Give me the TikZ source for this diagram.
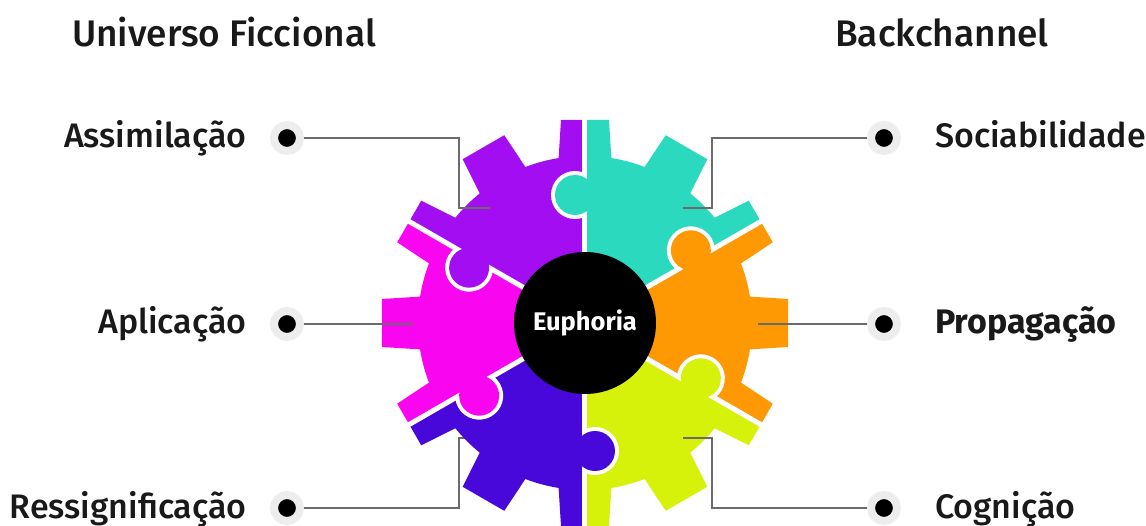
\documentclass[tikz,border=0pt]{standalone}
\usepackage{fontspec}
\setmainfont{Fira Sans}[UprightFont={* Medium},BoldFont={* Bold}]
\usetikzlibrary{calc}
\definecolor{PurpleClr}{rgb}{0.64,0.05,0.95}
\definecolor{TealClr}{rgb}{0.17,0.85,0.75}
\definecolor{OrangeClr}{rgb}{1,0.6,0.01}
\definecolor{LimeClr}{rgb}{0.84,0.95,0.04}
\definecolor{IndigoClr}{rgb}{0.28,0.03,0.85}
\definecolor{MagentaClr}{rgb}{0.98,0.02,0.94}
\definecolor{LineClr}{rgb}{0.42,0.42,0.42}
\definecolor{HaloClr}{rgb}{0.93,0.93,0.93}

\tikzset{
  dot/.style={circle,fill=black,draw=HaloClr,line width=8pt,minimum size=26pt,inner sep=0pt},
  leader/.style={draw=LineClr,line width=2pt},
  lbl/.style={font=\fontsize{34}{38}\selectfont,text=black!90,inner sep=0pt},
  ttl/.style={font=\fontsize{37}{40}\selectfont,text=black!90,inner sep=0pt}
}

\begin{document}
\begin{tikzpicture}[x=1pt,y=1pt]
\useasboundingbox (-585,-202) rectangle (561,323);

\node[ttl,anchor=base] (uf) at (-361,276) {Universo Ficcional};
\node[ttl,anchor=base] (bc) at (357,276) {Backchannel};

\node[dot] (assim) at (-298,185) {};
\node[dot] (aplic) at (-298,-1) {};
\node[dot] (ressig) at (-298,-185) {};
\node[dot] (socia) at (299,185) {};
\node[dot] (propag) at (299,-1) {};
\node[dot] (cogn) at (299,-185) {};

\node[lbl,anchor=base east] at ($(assim)+(-40,-10)$) {Assimilação};
\node[lbl,anchor=base east] at ($(aplic)+(-40,-9)$) {Aplicação};
\node[lbl,anchor=base east] at ($(ressig)+(-40,-10)$) {Ressignificação};
\node[lbl,anchor=base west] at ($(socia)+(51,-10)$) {Sociabilidade};
\node[lbl,anchor=base west] at ($(propag)+(51,-9)$) {\bfseries Propagação};
\node[lbl,anchor=base west] at ($(cogn)+(51,-10)$) {Cognição};

% lower left leader runs under the gear
\coordinate (ressigEnd) at (-95,-115);
\draw[leader] (ressig.east) -- (-126,-185) |- (ressigEnd);

% gear pieces
\foreach \a/\clr in {60/TealClr,0/OrangeClr,-60/LimeClr,-120/IndigoClr,180/MagentaClr,120/PurpleClr}{
  \begin{scope}
    \clip (0,0) -- (\a-30:260) -- (\a:300) -- (\a+30:260) -- cycle;
    \fill[\clr] (0,0) circle (167);
    \foreach \t in {-30,0,30}
      \fill[\clr,rotate=\a+\t] (155,-27) -- (203,-24) -- (203,24) -- (155,27) -- cycle;
  \end{scope}
}
\foreach \b in {30,90,...,330}
  \draw[white,line width=5pt] (0,0) -- (\b:215);

% knobs
\foreach \a/\clr in {60/TealClr,0/OrangeClr,-60/LimeClr,-120/IndigoClr,180/MagentaClr,120/PurpleClr}{
  \begin{scope}[rotate=\a+30]
    \begin{scope}
      \clip (95,0) rectangle (165,45);
      \fill[white] (128,10) circle (24);
    \end{scope}
    \fill[\clr] (128,10) circle (20);
  \end{scope}
}

\node[circle,fill=black,minimum size=142pt,inner sep=0pt,text=white,
  font=\fontsize{25.5}{28}\selectfont\bfseries] (hub) at (0,0) {Euphoria};

\coordinate (assimEnd) at (-95,115);
\coordinate (aplicEnd) at (-172,-1);
\coordinate (sociaEnd) at (98,115);
\coordinate (propagEnd) at (173,-1);
\coordinate (cognEnd) at (98,-115);
\draw[leader] (assim.east) -- (-126,185) |- (assimEnd);
\draw[leader] (aplic.east) -- (aplicEnd);
\draw[leader] (socia.west) -- (127,185) |- (sociaEnd);
\draw[leader] (propag.west) -- (propagEnd);
\draw[leader] (cogn.west) -- (127,-185) |- (cognEnd);
\end{tikzpicture}
\end{document}
